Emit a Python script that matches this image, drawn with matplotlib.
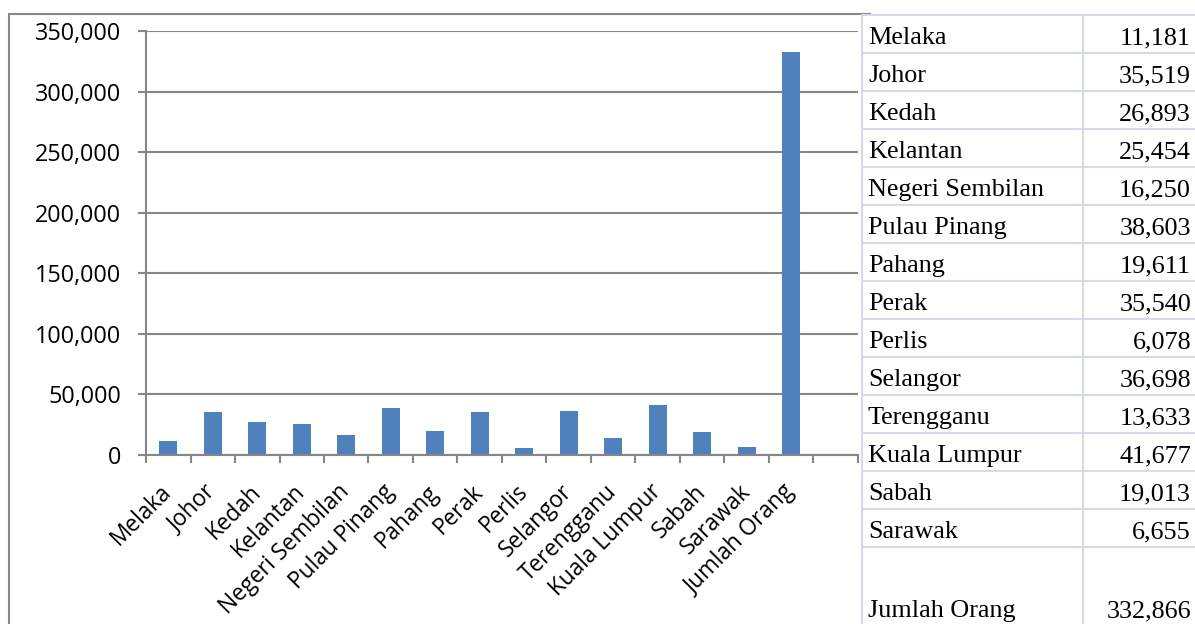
import matplotlib
matplotlib.use("Agg")
import matplotlib.pyplot as plt
from matplotlib.lines import Line2D
from matplotlib.patches import Rectangle
from matplotlib.ticker import FixedLocator, StrMethodFormatter

# data (bar chart + table beside it)
categories = [
    "Melaka", "Johor", "Kedah", "Kelantan", "Negeri Sembilan", "Pulau Pinang",
    "Pahang", "Perak", "Perlis", "Selangor", "Terengganu", "Kuala Lumpur",
    "Sabah", "Sarawak", "Jumlah Orang",
]
values = [
    11181, 35519, 26893, 25454, 16250, 38603, 19611, 35540, 6078, 36698,
    13633, 41677, 19013, 6655, 332866,
]
y_ticks = [0, 50000, 100000, 150000, 200000, 250000, 300000, 350000]

W, H = 1195, 624
BAR_COLOR = "#4F81BD"
AXIS_GRAY = "#868686"
TABLE_LINE = "#D5DBE8"


def fx(px):
    return px / W


def fy(py):
    return 1 - py / H


fig = plt.figure(figsize=(W / 100, H / 100), dpi=100)

# chart area border (runs off the bottom of the screenshot)
fig.add_artist(Rectangle((fx(9), fy(640)), fx(870) - fx(9), fy(14) - fy(640),
                         transform=fig.transFigure, fill=False,
                         edgecolor=AXIS_GRAY, linewidth=1.5, zorder=0))

# one empty slot after the last category, its right end sits under the table
n_slots = len(categories) + 1
ax = fig.add_axes([fx(146), fy(455), fx(146 + n_slots * 44.5) - fx(146), fy(31) - fy(455)])
ax.set_facecolor("none")

x = range(len(categories))
ax.bar(x, values, width=0.4, color=BAR_COLOR, zorder=3)

ax.set_ylim(0, y_ticks[-1])
ax.set_xlim(-0.5, n_slots - 0.5)
ax.set_yticks(y_ticks)
ax.yaxis.set_major_formatter(StrMethodFormatter("{x:,.0f}"))
ax.grid(axis="y", color=AXIS_GRAY, linewidth=1.5, zorder=1)

ax.set_xticks(list(x))
ax.set_xticklabels(categories, rotation=45, ha="right", va="center",
                   rotation_mode="anchor", fontsize=16.3, family="Open Sans")
ax.xaxis.set_minor_locator(FixedLocator([i - 0.5 for i in range(n_slots + 1)]))
ax.tick_params(axis="x", which="major", length=0, pad=24)
ax.tick_params(axis="x", which="minor", length=6, width=1.5, color=AXIS_GRAY, direction="out")
ax.tick_params(axis="y", length=6, width=1.5, color=AXIS_GRAY, pad=12)
for lbl in ax.get_yticklabels():
    lbl.set_fontsize(16.8)
    lbl.set_family("Open Sans")

for side in ("top", "right"):
    ax.spines[side].set_visible(False)
for side in ("left", "bottom"):
    ax.spines[side].set_color(AXIS_GRAY)
    ax.spines[side].set_linewidth(1.5)
    ax.spines[side].set_zorder(4)

# table on the right, drawn in figure pixels
tbl_left, tbl_mid, tbl_right = 862, 1083, 1200
fig.add_artist(Rectangle((fx(tbl_left), 0), 1 - fx(tbl_left), fy(15),
                         transform=fig.transFigure, facecolor="white",
                         edgecolor="none", zorder=5))
row_h = 38
row_lines = [15 + i * row_h for i in range(len(categories))]
for y in row_lines:
    fig.add_artist(Line2D([fx(tbl_left), fx(tbl_right)], [fy(y), fy(y)],
                          transform=fig.transFigure, color=TABLE_LINE,
                          linewidth=1.5, zorder=6))
for xv in (tbl_left, tbl_mid):
    fig.add_artist(Line2D([fx(xv), fx(xv)], [fy(15), fy(640)],
                          transform=fig.transFigure, color=TABLE_LINE,
                          linewidth=1.5, zorder=6))

for i, (name, val) in enumerate(zip(categories, values)):
    if i < len(categories) - 1:
        base = 15 + (i + 1) * row_h - 9
    else:
        base = 617
    fig.text(fx(868), fy(base), name, family="Liberation Serif", fontsize=18.8,
             va="baseline", ha="left", zorder=7)
    fig.text(fx(1191), fy(base), f"{val:,}", family="Liberation Serif", fontsize=18.8,
             va="baseline", ha="right", zorder=7)

fig.savefig("out.png", dpi=100)
